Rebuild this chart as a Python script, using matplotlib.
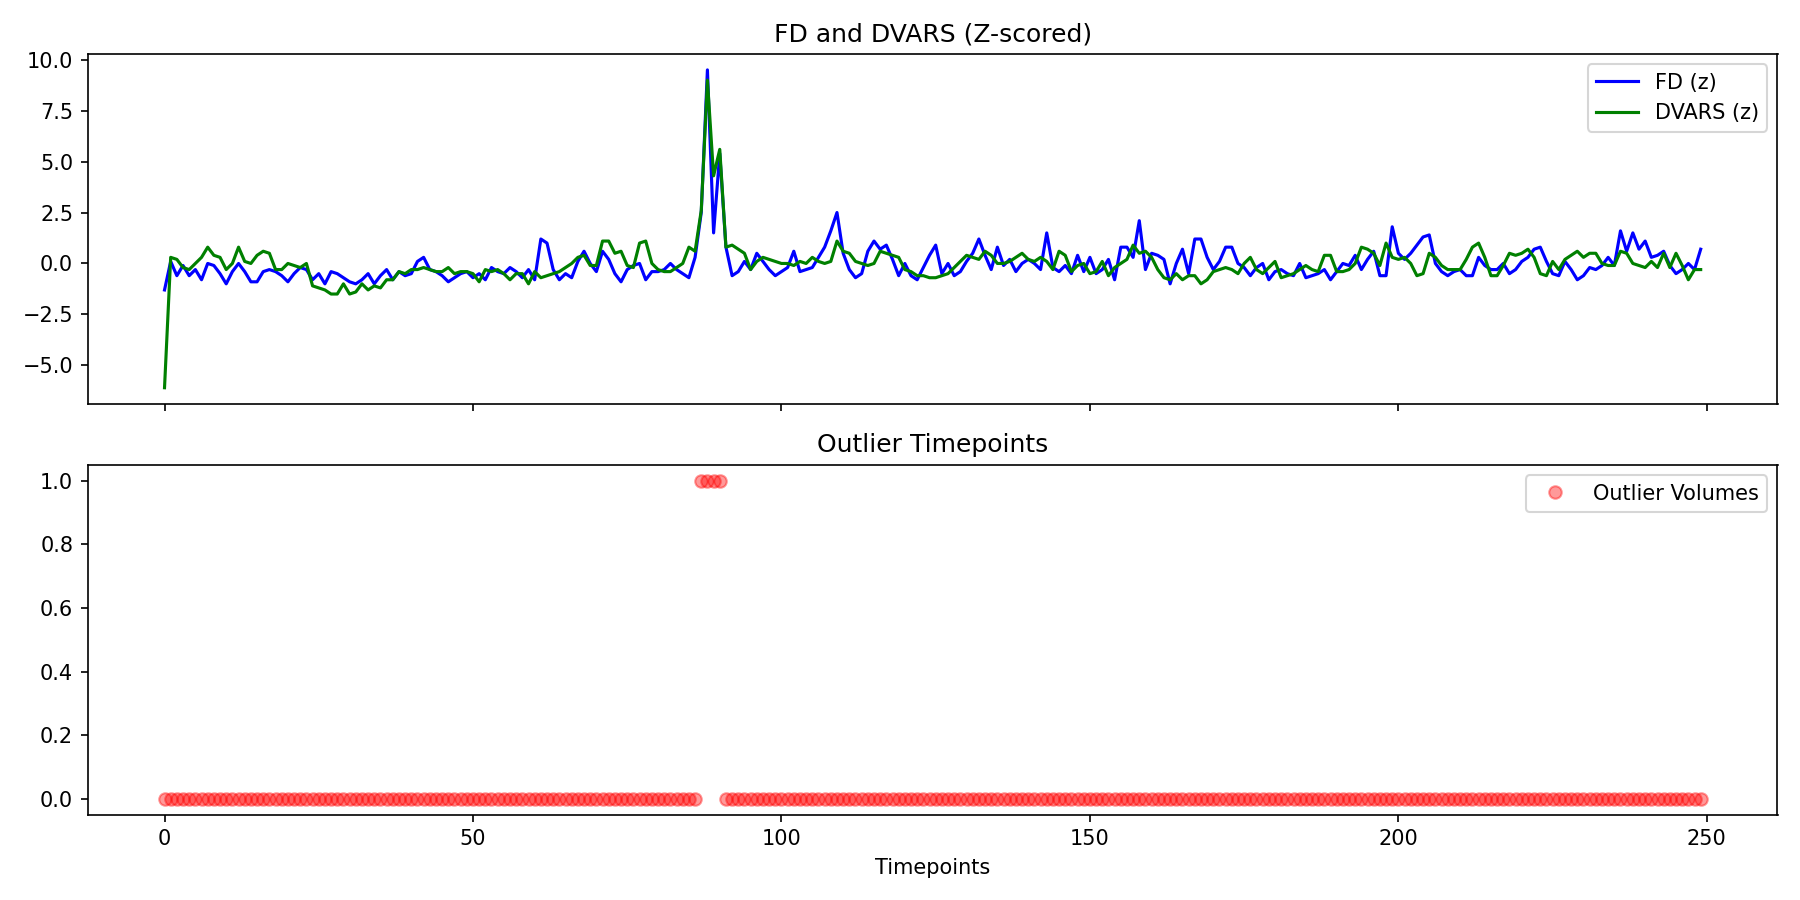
import matplotlib
matplotlib.use("Agg")
import matplotlib.pyplot as plt
import numpy as np

fd_z = [
 -1.3, 0.1, -0.6, -0.1, -0.6, -0.3, -0.8, 0.0, -0.1, -0.5,
 -1.0, -0.4, 0.0, -0.4, -0.9, -0.9, -0.4, -0.3, -0.4, -0.6,
 -0.9, -0.5, -0.2, -0.3, -0.8, -0.5, -1.0, -0.4, -0.5, -0.7,
 -0.9, -1.0, -0.8, -0.5, -1.0, -0.6, -0.3, -0.8, -0.4, -0.6,
 -0.5, 0.1, 0.3, -0.3, -0.4, -0.6, -0.9, -0.7, -0.5, -0.4,
 -0.7, -0.5, -0.8, -0.2, -0.4, -0.5, -0.2, -0.4, -0.7, -0.3,
 -0.8, 1.2, 1.0, -0.3, -0.8, -0.5, -0.7, 0.1, 0.6, 0.0,
 -0.4, 0.6, 0.2, -0.5, -0.9, -0.3, -0.1, 0.0, -0.8, -0.4,
 -0.4, -0.3, 0.0, -0.3, -0.5, -0.7, 0.3, 2.5, 9.5, 1.5,
 5.4, 0.8, -0.6, -0.4, 0.1, -0.3, 0.5, 0.1, -0.3, -0.6,
 -0.4, -0.2, 0.6, -0.4, -0.3, -0.2, 0.3, 0.8, 1.6, 2.5,
 0.5, -0.3, -0.7, -0.5, 0.6, 1.1, 0.7, 0.9, 0.2, -0.6,
 0.0, -0.6, -0.8, -0.2, 0.4, 0.9, -0.5, 0.0, -0.6, -0.4,
 0.1, 0.5, 1.2, 0.4, -0.3, 0.8, -0.1, 0.2, -0.4, 0.0,
 0.2, 0.0, -0.3, 1.5, -0.2, -0.4, -0.1, -0.5, 0.4, -0.4,
 0.3, -0.5, -0.3, 0.2, -0.8, 0.8, 0.8, 0.3, 2.1, -0.3,
 0.5, 0.4, 0.2, -1.0, 0.0, 0.7, -0.5, 1.2, 1.2, 0.3,
 -0.3, 0.1, 0.8, 0.8, 0.0, -0.2, -0.6, -0.2, 0.0, -0.8,
 -0.4, -0.3, -0.5, -0.6, 0.0, -0.7, -0.6, -0.5, -0.3, -0.8,
 -0.4, 0.0, -0.1, 0.4, -0.3, 0.2, 0.6, -0.6, -0.6, 1.8,
 0.5, 0.2, 0.5, 0.9, 1.3, 1.4, 0.0, -0.4, -0.6, -0.4,
 -0.3, -0.6, -0.6, 0.3, -0.1, -0.3, -0.3, 0.0, -0.5, -0.3,
 0.1, 0.3, 0.7, 0.8, 0.1, -0.5, -0.6, 0.1, -0.3, -0.8,
 -0.6, -0.2, -0.3, -0.1, 0.3, -0.1, 1.6, 0.6, 1.5, 0.7,
 1.1, 0.3, 0.4, 0.6, -0.1, -0.5, -0.3, 0.0, -0.3, 0.7,
]

dvars_z = [
 -6.1, 0.3, 0.2, -0.2, -0.3, 0.0, 0.3, 0.8, 0.4, 0.3,
 -0.3, 0.0, 0.8, 0.1, 0.0, 0.4, 0.6, 0.5, -0.3, -0.3,
 0.0, -0.1, -0.2, 0.0, -1.1, -1.2, -1.3, -1.5, -1.5, -1.0,
 -1.5, -1.4, -1.0, -1.3, -1.1, -1.2, -0.8, -0.8, -0.4, -0.5,
 -0.3, -0.3, -0.2, -0.3, -0.4, -0.4, -0.2, -0.5, -0.4, -0.4,
 -0.5, -0.9, -0.3, -0.4, -0.3, -0.5, -0.8, -0.5, -0.5, -1.0,
 -0.4, -0.7, -0.6, -0.5, -0.4, -0.2, 0.0, 0.3, 0.4, -0.1,
 -0.1, 1.1, 1.1, 0.5, 0.6, -0.1, -0.2, 1.0, 1.1, 0.0,
 -0.3, -0.4, -0.4, -0.2, 0.0, 0.8, 0.6, 2.6, 9.0, 4.3,
 5.6, 0.8, 0.9, 0.7, 0.5, -0.3, 0.1, 0.3, 0.2, 0.1,
 0.0, 0.0, -0.1, 0.1, 0.0, 0.3, 0.1, 0.0, 0.1, 1.1,
 0.6, 0.5, 0.1, 0.0, -0.1, 0.0, 0.6, 0.5, 0.4, 0.3,
 -0.3, -0.4, -0.6, -0.6, -0.7, -0.7, -0.6, -0.5, -0.2, 0.1,
 0.4, 0.3, 0.2, 0.6, 0.4, 0.0, 0.0, 0.1, 0.3, 0.5,
 0.2, 0.1, 0.3, 0.1, -0.3, 0.6, 0.4, -0.4, -0.1, 0.0,
 -0.5, -0.4, 0.1, -0.6, -0.2, 0.0, 0.2, 0.9, 0.5, 0.6,
 0.3, -0.3, -0.7, -0.8, -0.5, -0.8, -0.6, -0.6, -1.0, -0.8,
 -0.4, -0.3, -0.2, -0.3, -0.5, 0.0, 0.3, -0.3, -0.5, -0.2,
 0.1, -0.7, -0.6, -0.5, -0.3, -0.1, -0.3, -0.4, 0.4, 0.4,
 -0.4, -0.4, -0.3, 0.0, 0.8, 0.7, 0.5, -0.1, 1.0, 0.3,
 0.2, 0.3, 0.0, -0.6, -0.5, 0.5, 0.3, -0.1, -0.3, -0.3,
 -0.3, 0.2, 0.8, 1.0, 0.3, -0.6, -0.6, -0.1, 0.5, 0.4,
 0.5, 0.7, 0.3, -0.5, -0.6, 0.1, -0.3, 0.2, 0.4, 0.6,
 0.3, 0.5, 0.5, 0.0, -0.1, -0.1, 0.6, 0.5, 0.0, -0.1,
 -0.2, 0.1, -0.2, 0.5, -0.2, 0.5, -0.1, -0.8, -0.3, -0.3,
]

outlier_indices = [87, 88, 89, 90]

t = np.arange(len(fd_z))
outliers = np.isin(t, outlier_indices).astype(int)

fig, (ax1, ax2) = plt.subplots(2, 1, figsize=(12, 6), dpi=150, sharex=True)
ax1.plot(t, fd_z, color="blue", label="FD (z)")
ax1.plot(t, dvars_z, color="green", label="DVARS (z)")
ax1.set_title("FD and DVARS (Z-scored)")
ax1.legend(loc="upper right")

ax2.plot(t, outliers, "o", color="red", alpha=0.4, label="Outlier Volumes")
ax2.set_title("Outlier Timepoints")
ax2.set_xlabel("Timepoints")
ax2.legend(loc="upper right")

fig.tight_layout()
fig.savefig("out.png")
